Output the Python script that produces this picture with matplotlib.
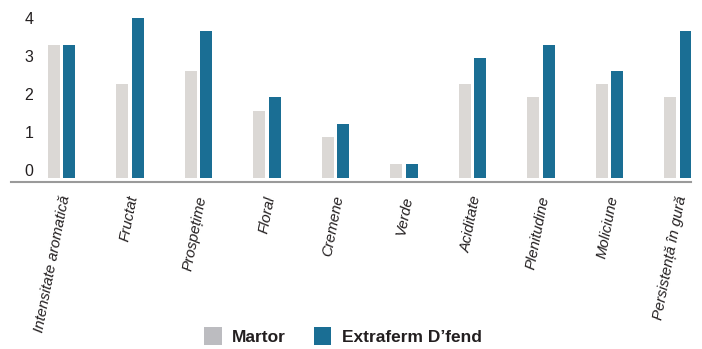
import matplotlib
matplotlib.use("Agg")
import matplotlib.pyplot as plt
import numpy as np
from matplotlib.patches import Patch
import matplotlib.transforms as mtransforms

categories = ["Intensitate aromatică", "Fructat", "Prospețime", "Floral", "Cremene",
              "Verde", "Aciditate", "Plenitudine", "Moliciune", "Persistență în gură"]
martor = [3.3, 2.26, 2.6, 1.55, 0.87, 0.16, 2.26, 1.92, 2.26, 1.92]
extraferm = [3.3, 4.0, 3.66, 1.92, 1.21, 0.16, 2.95, 3.29, 2.6, 3.66]
series_names = ["Martor", "Extraferm D\u2019fend"]
y_ticks = [0, 1, 2, 3, 4]

GRAY = "#dbd8d5"
GRAY_LEG = "#bcbcc0"
BLUE = "#1a6e94"
BASE = -0.21

plt.rcParams['font.family'] = ['Liberation Sans', 'DejaVu Sans']

fig = plt.figure(figsize=(7.02, 3.49), dpi=100)
ax = fig.add_axes([11/702, 1 - 182/349, 680/702, 172/349])

x = np.arange(len(categories))
w = 0.175
off = 0.11
ax.bar(x - off, np.array(martor) - BASE, bottom=BASE, width=w, color=GRAY)
ax.bar(x + off, np.array(extraferm) - BASE, bottom=BASE, width=w, color=BLUE)

ax.set_xlim(-0.737, 9.19)
ax.set_ylim(-0.316, 4.21)

for s in ["top", "right", "left"]:
    ax.spines[s].set_visible(False)
ax.spines["bottom"].set_color("#9a9a9a")
ax.spines["bottom"].set_linewidth(1.5)

ax.set_yticks(y_ticks)
ax.set_yticklabels([str(t) for t in y_ticks], fontsize=11.5, color="#231f20")
ax.tick_params(axis="y", length=0, pad=-16)

ax.set_xticks(x)
ax.set_xticklabels(categories, rotation=79, ha="right", va="center",
                   rotation_mode="anchor", fontsize=10.8, style="italic", color="#231f20")
ax.tick_params(axis="x", length=0, pad=10)
shift = mtransforms.ScaledTranslation(4/100, 0, fig.dpi_scale_trans)
for lbl in ax.get_xticklabels():
    lbl.set_transform(lbl.get_transform() + shift)

handles = [Patch(facecolor=GRAY_LEG, edgecolor="none"), Patch(facecolor=BLUE, edgecolor="none")]
leg = fig.legend(handles, series_names, loc="center", bbox_to_anchor=(343/702, 1 - 336/349),
                 ncol=2, frameon=False, prop={"weight": "bold", "size": 12.5},
                 handlelength=1.0, handleheight=1.3, handletextpad=0.6, columnspacing=1.6)
for t in leg.get_texts():
    t.set_color("#231f20")

fig.savefig("out.png", dpi=100)
